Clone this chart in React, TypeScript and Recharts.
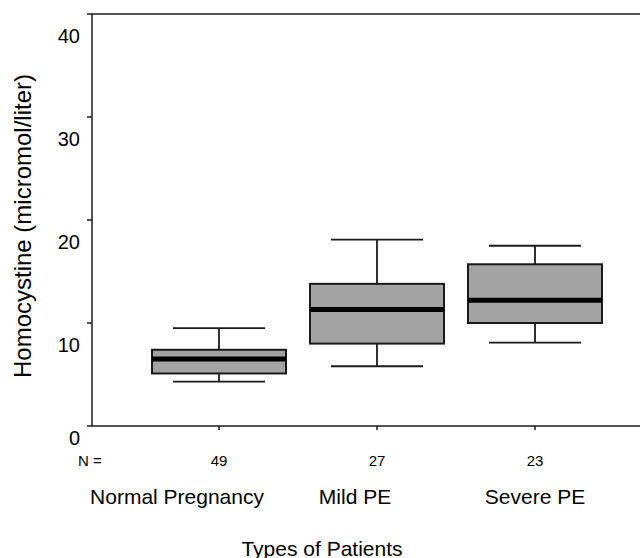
import { ComposedChart, Bar, XAxis, YAxis, ReferenceLine } from 'recharts';

// box plot summary per patient group (micromol/liter)
const categories = ['Normal Pregnancy', 'Mild PE', 'Severe PE'];
const counts = [49, 27, 23];
const lowWhisker = [4.3, 5.8, 8.1];
const lowerQuartile = [5.1, 8.0, 10.0];
const medians = [6.5, 11.3, 12.2];
const upperQuartile = [7.4, 13.8, 15.7];
const highWhisker = [9.5, 18.1, 17.5];
const yTicks = [0, 10, 20, 30, 40];

const data = categories.map((name, i) => ({
  name,
  n: counts[i],
  min: lowWhisker[i],
  q1: lowerQuartile[i],
  median: medians[i],
  q3: upperQuartile[i],
  max: highWhisker[i]
}));

const FONT = '"Liberation Sans", Arial, sans-serif';
const INK = '#1a1a1a';

/**
 * BoxShape
 * Draws whiskers, box and median from the bar's own [q1, q3] geometry
 */
function BoxShape(props: any) {
  const { x, y, width, height, payload } = props;
  const top = Math.min(y, y + height);
  const h = Math.abs(height);
  const unit = h / (payload.q3 - payload.q1);
  const py = (v: number) => top + (payload.q3 - v) * unit;
  const cx = x + width / 2;
  const cap = (width * 92) / 134 / 2;

  return (
    <g>
      <line x1={cx} x2={cx} y1={py(payload.max)} y2={top} stroke={INK} strokeWidth={1.8} />
      <line x1={cx} x2={cx} y1={top + h} y2={py(payload.min)} stroke={INK} strokeWidth={1.8} />
      <line x1={cx - cap} x2={cx + cap} y1={py(payload.max)} y2={py(payload.max)} stroke={INK} strokeWidth={1.8} />
      <line x1={cx - cap} x2={cx + cap} y1={py(payload.min)} y2={py(payload.min)} stroke={INK} strokeWidth={1.8} />
      <rect x={x} y={top} width={width} height={h} fill="#a3a3a3" stroke={INK} strokeWidth={2} />
      <line x1={x} x2={x + width} y1={py(payload.median)} y2={py(payload.median)} stroke="#000" strokeWidth={5} />
    </g>
  );
}

// category names sit a bit left of their boxes in the original
const NAME_SHIFT = [-42, -22, 0];

function CategoryTick(props: any) {
  const { x, y, payload, index } = props;
  return (
    <g fontFamily={FONT} fill="#000">
      <text x={x} y={y + 28} textAnchor="middle" dominantBaseline="central" fontSize={15}>
        {counts[index]}
      </text>
      <text x={x + NAME_SHIFT[index]} y={y + 64} textAnchor="middle" dominantBaseline="central" fontSize={21}>
        {payload.value}
      </text>
    </g>
  );
}

function ValueTick(props: any) {
  const { x, y, payload } = props;
  const dy = payload.value === 0 ? 12 : 22;
  return (
    <text x={x - 5} y={y + dy} textAnchor="end" dominantBaseline="central" fontSize={20} fontFamily={FONT} fill="#000">
      {payload.value}
    </text>
  );
}

export default function App() {
  return (
    <div style={{ position: 'absolute', left: 0, top: 0, width: 640, height: 558, background: '#fff' }}>
      <ComposedChart width={640} height={558} data={data} margin={{ top: 14, right: 0, bottom: 0, left: 0 }}>
        <XAxis
          dataKey="name"
          height={132}
          padding={{ left: 48, right: 26 }}
          tickSize={4}
          tickLine={{ stroke: INK, strokeWidth: 1.5 }}
          axisLine={{ stroke: INK, strokeWidth: 1.5 }}
          tick={<CategoryTick />}
          interval={0}
          label={() => (
            <g fontFamily={FONT} fill="#000">
              <text x={90} y={460} textAnchor="middle" dominantBaseline="central" fontSize={15}>
                N =
              </text>
              <text x={322} y={548} textAnchor="middle" dominantBaseline="central" fontSize={21}>
                Types of Patients
              </text>
            </g>
          )}
        />
        <YAxis
          type="number"
          width={92}
          domain={[0, 40]}
          ticks={yTicks}
          tickSize={5}
          tickLine={{ stroke: INK, strokeWidth: 1.5 }}
          axisLine={{ stroke: INK, strokeWidth: 1.5 }}
          tick={<ValueTick />}
          label={() => (
            <text
              x={22}
              y={226}
              transform="rotate(-90 22 226)"
              textAnchor="middle"
              dominantBaseline="central"
              fontSize={24}
              fontFamily={FONT}
              fill="#000"
            >
              Homocystine (micromol/liter)
            </text>
          )}
        />
        <ReferenceLine y={40} stroke={INK} strokeWidth={1.5} />
        <Bar dataKey={(d: any) => [d.q1, d.q3]} barSize={134} shape={<BoxShape />} isAnimationActive={false} />
      </ComposedChart>
    </div>
  );
}
